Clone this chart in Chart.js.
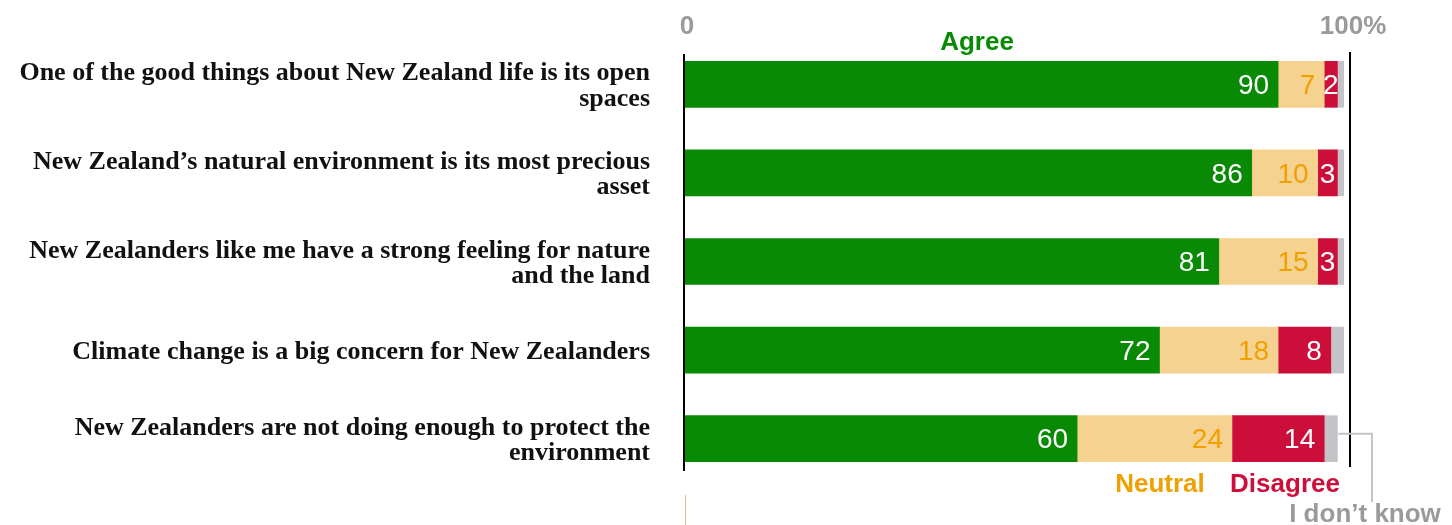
<!DOCTYPE html>
<html>
<head>
<meta charset="utf-8">
<script src="https://cdn.jsdelivr.net/npm/chart.js@4.4.1/dist/chart.umd.min.js"></script>
<style>
  html, body { margin: 0; padding: 0; background: #ffffff; }
</style>
</head>
<body>
<canvas id="chart" width="1452" height="525"></canvas>
<script>
/* --------------- Data --------------------- */
const categories = [
  ["One of the good things about New Zealand life is its open", "spaces"],
  ["New Zealand’s natural environment is its most precious", "asset"],
  ["New Zealanders like me have a strong feeling for nature", "and the land"],
  ["Climate change is a big concern for New Zealanders"],
  ["New Zealanders are not doing enough to protect the", "environment"],
];
const agree = [90, 86, 81, 72, 59.5];
const neutral = [7, 10, 15, 18, 23.5];
const disagree = [2, 3, 3, 8, 14];
const dontKnow = [1, 1, 1, 2, 2];
const axisLabels = ["0", "100%"];

/* --------------- Colors --------------------- */
const green = "#098a04";
const tan = "#f5d28f";
const crimson = "#cc0e3a";
const grey = "#c4c4c8";
const orange = "#f0a000";
const textGrey = "#9a9a9c";

/* --------------- Value labels inside the bars --------------------- */
const barLabels = {
  id: "barLabels",
  afterDatasetsDraw(chart) {
    const ctx = chart.ctx;
    ctx.save();
    ctx.font = "28px 'Liberation Sans', Arial, sans-serif";
    ctx.textBaseline = "middle";
    chart.data.datasets.forEach((ds, i) => {
      if (!ds.labelColor) return;
      chart.getDatasetMeta(i).data.forEach((bar, j) => {
        const txt = String(Math.round(ds.data[j]));
        const w = ctx.measureText(txt).width;
        const segW = bar.x - bar.base;
        ctx.fillStyle = ds.labelColor;
        if (segW > w + 16) {
          ctx.textAlign = "right";
          ctx.fillText(txt, bar.x - 9, bar.y + 2);
        } else {
          ctx.textAlign = "center";
          ctx.fillText(txt, (bar.x + bar.base) / 2, bar.y + 2);
        }
      });
    });
    ctx.restore();
  },
};

/* --------------- Axis lines, scale ends and series names --------------------- */
const annotations = {
  id: "annotations",
  afterDraw(chart) {
    const ctx = chart.ctx;
    const x = chart.scales.x;
    const x0 = x.getPixelForValue(0);
    const x100 = x.getPixelForValue(100);
    ctx.save();

    ctx.strokeStyle = "#000";
    ctx.lineWidth = 2;
    ctx.beginPath();
    ctx.moveTo(x0 - 1, 54);
    ctx.lineTo(x0 - 1, 471);
    ctx.moveTo(x100 + 6, 52);
    ctx.lineTo(x100 + 6, 467);
    ctx.stroke();

    ctx.strokeStyle = "#e6b89c";
    ctx.lineWidth = 1;
    ctx.beginPath();
    ctx.moveTo(x0 + 0.5, 495);
    ctx.lineTo(x0 + 0.5, 525);
    ctx.stroke();

    // connector for "I don't know"
    const last = chart.getDatasetMeta(3).data[4];
    ctx.strokeStyle = grey;
    ctx.lineWidth = 2;
    ctx.beginPath();
    ctx.moveTo(last.x + 1, last.y - 5);
    ctx.lineTo(x100 + 28, last.y - 5);
    ctx.lineTo(x100 + 28, 502);
    ctx.stroke();

    ctx.textAlign = "center";
    ctx.textBaseline = "alphabetic";
    ctx.font = "bold 26px 'Liberation Sans', Arial, sans-serif";
    ctx.fillStyle = textGrey;
    ctx.fillText(axisLabels[0], x0 + 2, 34);
    ctx.fillText(axisLabels[1], x100 + 9, 34);

    ctx.fillStyle = green;
    ctx.fillText(chart.data.datasets[0].label, 977, 50);
    ctx.fillStyle = orange;
    ctx.fillText(chart.data.datasets[1].label, 1160, 492);
    ctx.fillStyle = crimson;
    ctx.fillText(chart.data.datasets[2].label, 1285, 492);
    ctx.fillStyle = textGrey;
    ctx.fillText(chart.data.datasets[3].label, 1365, 522);
    ctx.restore();
  },
};

/* --------------- Chart --------------------- */
new Chart(document.getElementById("chart"), {
  type: "bar",
  plugins: [barLabels, annotations],
  data: {
    labels: categories,
    datasets: [
      { label: "Agree", data: agree, backgroundColor: green, labelColor: "#ffffff" },
      { label: "Neutral", data: neutral, backgroundColor: tan, labelColor: orange },
      { label: "Disagree", data: disagree, backgroundColor: crimson, labelColor: "#ffffff" },
      { label: "I don’t know", data: dontKnow, backgroundColor: grey },
    ],
  },
  options: {
    indexAxis: "y",
    responsive: false,
    animation: false,
    barThickness: 46,
    layout: { padding: { top: 40, bottom: 42, left: 0, right: 108 } },
    plugins: {
      legend: { display: false },
      tooltip: { enabled: false },
    },
    scales: {
      x: {
        stacked: true,
        min: 0,
        max: 100,
        display: false,
      },
      y: {
        stacked: true,
        grid: { display: false, drawTicks: false },
        border: { display: false },
        afterFit: (scale) => {
          scale.width = 685;
          scale.paddingTop = 0;
          scale.paddingBottom = 0;
        },
        ticks: {
          autoSkip: false,
          padding: 35,
          labelOffset: 2,
          color: "#111111",
          font: { family: "'Liberation Serif', 'DejaVu Serif', serif", weight: "bold", size: 26, lineHeight: 0.97 },
        },
      },
    },
  },
});
</script>
</body>
</html>
